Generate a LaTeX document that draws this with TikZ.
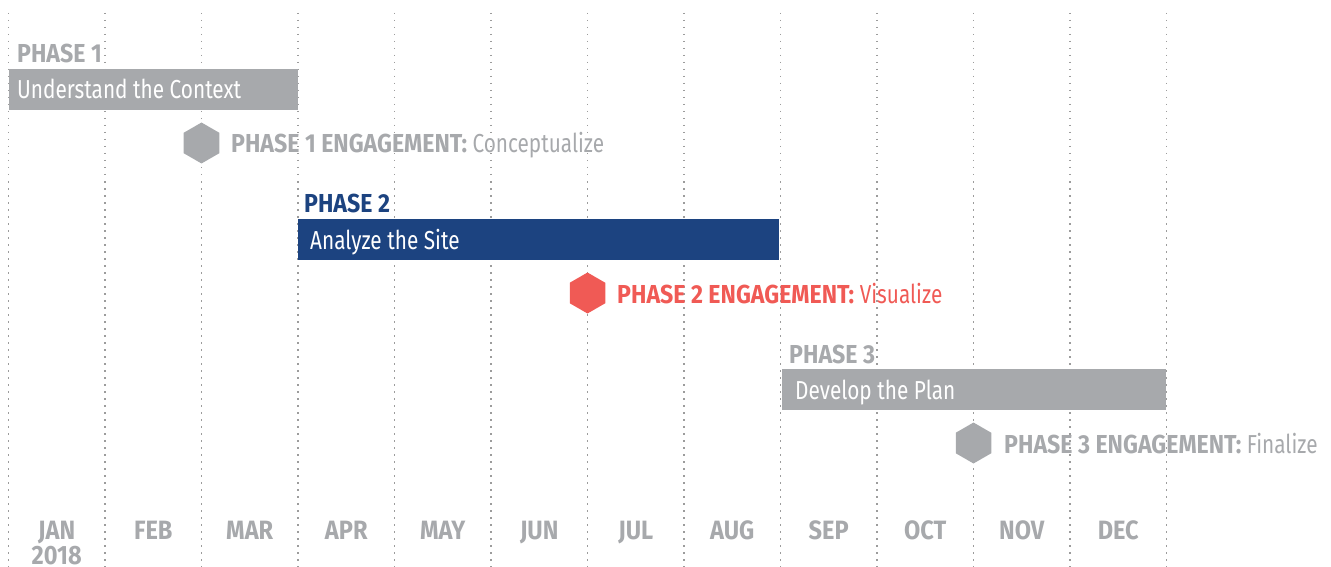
\documentclass[tikz,border=0pt]{standalone}
\usepackage{fontspec}
\setmainfont{Fira Sans}[FakeStretch=0.80,BoldFeatures={FakeStretch=0.89}]
\usetikzlibrary{shapes.geometric}
\definecolor{pgray}{HTML}{A7A9AC}
\definecolor{pblue}{HTML}{1C4380}
\definecolor{pred}{HTML}{F05A55}
\definecolor{gridc}{HTML}{9C9C9C}
\begin{document}
\begin{tikzpicture}[x=1pt,y=-1pt,
  gridline/.style={draw=gridc,line width=1.5pt,dash pattern=on 1.5pt off 5.5pt},
  bar/.style={rectangle,draw=none,inner sep=0pt,anchor=north west},
  bartext/.style={anchor=base west,inner sep=0pt,text=white,font=\fontsize{26}{30}\selectfont},
  phaselabel/.style={anchor=base west,inner sep=0pt,font=\fontsize{26}{30}\selectfont\bfseries},
  hexa/.style={regular polygon,regular polygon sides=6,shape border rotate=30,minimum size=41pt,inner sep=0pt,draw=none},
  engtext/.style={anchor=base west,inner sep=0pt,font=\fontsize{26}{30}\selectfont},
  month/.style={anchor=base,inner sep=0pt,text=pgray,font=\fontsize{26.5}{30}\selectfont\bfseries}]
\useasboundingbox (0,0) rectangle (1331,567);
% grid lines
\foreach \i in {0,...,12}{
  \coordinate (gt\i) at (8.5+96.5*\i,13);
  \coordinate (gb\i) at (8.5+96.5*\i,567);
  \draw[gridline] (gt\i) -- (gb\i);
}
% phase 1
\node[phaselabel,text=pgray] (p1) at (17,63) {PHASE 1};
\node[bar,fill=pgray,minimum width=289pt,minimum height=41pt] (b1) at (9,69) {};
\node[bartext] (t1) at (17,98.5) {Understand the Context};
\node[hexa,fill=pgray] (h1) at (201.5,143) {};
\node[engtext,text=pgray] (e1) at (231,153) {\bfseries PHASE 1 ENGAGEMENT: \mdseries Conceptualize};
% phase 2
\node[phaselabel,text=pblue] (p2) at (304,212) {PHASE 2};
\node[bar,fill=pblue,minimum width=481pt,minimum height=41pt] (b2) at (298,219) {};
\node[bartext] (t2) at (310,249.5) {Analyze the Site};
\node[hexa,fill=pred] (h2) at (587.5,293) {};
\node[engtext,text=pred] (e2) at (617,303) {\bfseries PHASE 2 ENGAGEMENT: \mdseries Visualize};
% phase 3
\node[phaselabel,text=pgray] (p3) at (789,363) {PHASE 3};
\node[bar,fill=pgray,minimum width=384pt,minimum height=41pt] (b3) at (782,369) {};
\node[bartext] (t3) at (795,399.5) {Develop the Plan};
\node[hexa,fill=pgray] (h3) at (973.5,443) {};
\node[engtext,text=pgray] (e3) at (1004,453) {\bfseries PHASE 3 ENGAGEMENT: \mdseries Finalize};
% months
\foreach \m [count=\k from 0] in {JAN,FEB,MAR,APR,MAY,JUN,JUL,AUG,SEP,OCT,NOV,DEC}{
  \node[month] (m\k) at (8.5+96.5*\k+48.25,539) {\m};
}
\node[month] (yr) at (56.75,564) {2018};
\end{tikzpicture}
\end{document}
